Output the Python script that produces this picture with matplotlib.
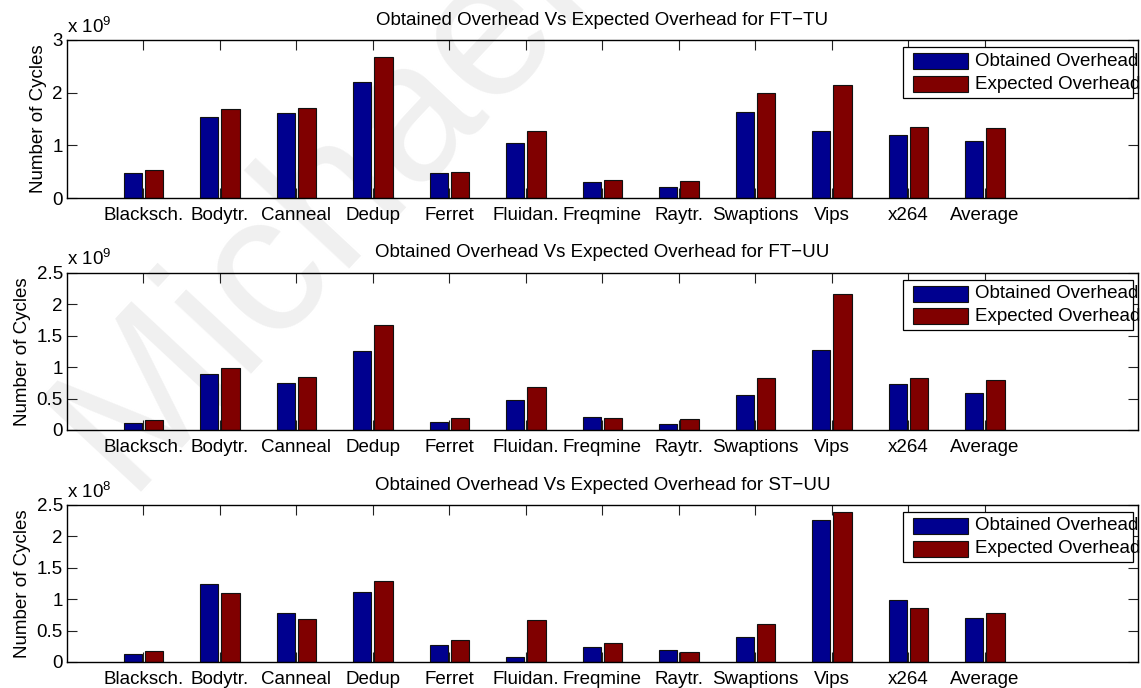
import numpy as np
import matplotlib
matplotlib.use("Agg")
import matplotlib.pyplot as plt
from matplotlib.ticker import FuncFormatter
from matplotlib.patches import Rectangle

plt.rcParams['font.family'] = ['Liberation Sans', 'DejaVu Sans']
plt.rcParams['mathtext.fontset'] = 'custom'
plt.rcParams['mathtext.rm'] = 'Liberation Sans'

benchmarks = ["Blacksch.", "Bodytr.", "Canneal", "Dedup", "Ferret", "Fluidan.",
              "Freqmine", "Raytr.", "Swaptions", "Vips", "x264", "Average"]

# cycles
ft_tu_obtained = [0.48e9, 1.54e9, 1.61e9, 2.20e9, 0.47e9, 1.05e9,
                  0.30e9, 0.21e9, 1.63e9, 1.28e9, 1.20e9, 1.09e9]
ft_tu_expected = [0.53e9, 1.69e9, 1.70e9, 2.68e9, 0.49e9, 1.27e9,
                  0.34e9, 0.32e9, 2.00e9, 2.15e9, 1.35e9, 1.32e9]

ft_uu_obtained = [0.106e9, 0.885e9, 0.752e9, 1.25e9, 0.127e9, 0.482e9,
                  0.207e9, 0.10e9, 0.556e9, 1.277e9, 0.737e9, 0.588e9]
ft_uu_expected = [0.154e9, 0.986e9, 0.848e9, 1.66e9, 0.196e9, 0.689e9,
                  0.186e9, 0.18e9, 0.832e9, 2.157e9, 0.832e9, 0.79e9]

st_uu_obtained = [0.127e8, 1.245e8, 0.773e8, 1.12e8, 0.27e8, 0.08e8,
                  0.243e8, 0.19e8, 0.397e8, 2.26e8, 0.98e8, 0.70e8]
st_uu_expected = [0.18e8, 1.09e8, 0.678e8, 1.29e8, 0.355e8, 0.66e8,
                  0.30e8, 0.153e8, 0.60e8, 2.385e8, 0.86e8, 0.78e8]

panels = [
    ("FT\u2212TU", ft_tu_obtained, ft_tu_expected, 9, 3.0, 1.0, 0.7122, 0.2297),
    ("FT\u2212UU", ft_uu_obtained, ft_uu_expected, 9, 2.5, 0.5, 0.375, 0.2288),
    ("ST\u2212UU", st_uu_obtained, st_uu_expected, 8, 2.5, 0.5, 0.0378, 0.2285),
]

blue = '#00008f'
red = '#800000'
fs = 13.5

fig = plt.figure(figsize=(11.41, 6.88), dpi=100)

# watermark behind the (transparent) axes
fig.text(0.1096, 0.2849, "Michael", rotation=47, fontsize=143, color='#f0f0f0',
         ha='left', va='baseline', rotation_mode='anchor', zorder=-1)

x = np.arange(1, len(benchmarks) + 1)
for name, obt, exp_, power, ymax, step, bottom, height in panels:
    ax = fig.add_axes([0.0587, bottom, 0.9386, height])
    ax.set_facecolor('none')
    ax.set_axisbelow(True)
    ax.bar(x - 0.14, obt, 0.24, color=blue, edgecolor='#111111', linewidth=0.8)
    ax.bar(x + 0.14, exp_, 0.24, color=red, edgecolor='#111111', linewidth=0.8)
    scale = 10.0 ** power
    ax.set_xlim(0, 14)
    ax.set_ylim(0, ymax * scale)
    ax.set_xticks(x)
    ax.set_xticklabels(benchmarks)
    ax.set_yticks(np.arange(0, ymax + step / 2, step) * scale)
    ax.yaxis.set_major_formatter(FuncFormatter(lambda v, p, s=scale: '%g' % (v / s)))
    ax.tick_params(direction='in', top=True, right=True, length=7, width=0.8,
                   color='#222222', labelsize=fs)
    ax.tick_params(axis='x', pad=6.5)
    ax.tick_params(axis='y', pad=3)
    for sp in ax.spines.values():
        sp.set_linewidth(1.0)
    ax.set_ylabel("Number of Cycles", fontsize=fs)
    ax.set_title("Obtained Overhead Vs Expected Overhead for " + name,
                 fontsize=fs, pad=11)
    ax.text(0.0, 1.02, r'x 10$^{%d}$' % power, transform=ax.transAxes,
            ha='left', va='bottom', fontsize=fs)

    # legend box, text overflows and is cut at the frame like the original
    frame = Rectangle((0.7806, 0.633), 0.2147, 0.323, transform=ax.transAxes,
                      facecolor='white', edgecolor='black', linewidth=0.9, zorder=5)
    ax.add_patch(frame)
    for yy, col, lab in [(0.816, blue, "Obtained Overhead"), (0.671, red, "Expected Overhead")]:
        ax.add_patch(Rectangle((0.790, yy), 0.0514, 0.101, transform=ax.transAxes,
                               facecolor=col, edgecolor='#111111', linewidth=0.8, zorder=6))
        t = ax.text(0.848, yy + 0.05, lab, transform=ax.transAxes, ha='left',
                    va='center', fontsize=fs, zorder=7)
        t.set_clip_path(frame)

fig.savefig("out.png", dpi=100)
